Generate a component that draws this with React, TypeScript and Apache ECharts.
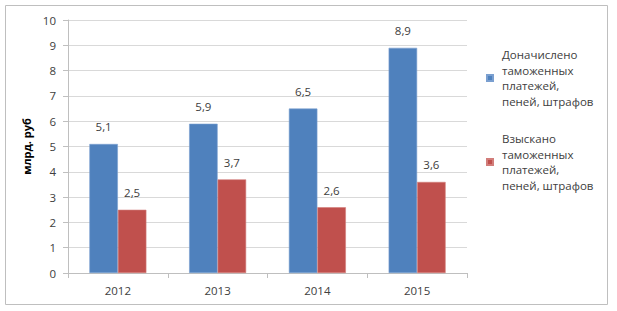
import React, { useEffect, useRef } from "react";
import * as echarts from "echarts";

const categories = ["2012", "2013", "2014", "2015"];
const seriesNames = [
  "Доначислено\nтаможенных\nплатежей,\nпеней, штрафов",
  "Взыскано\nтаможенных\nплатежей,\nпеней, штрафов",
];
const assessed = [5.1, 5.9, 6.5, 8.9];
const collected = [2.5, 3.7, 2.6, 3.6];
const yTicks = { min: 0, max: 10, interval: 1 };
const yName = "млрд. руб";

const FONT = "'Open Sans', 'Noto Sans', sans-serif";

export default function App() {
  const ref = useRef<HTMLDivElement>(null);
  useEffect(() => {
    if (!ref.current) return;
    const chart = echarts.init(ref.current, undefined, { renderer: "svg" });
    const label = {
      show: true,
      position: "top" as const,
      distance: 11,
      color: "#404040",
      fontSize: 11.5,
      fontFamily: FONT,
      formatter: (p: any) => String(p.value).replace(".", ","),
    };
    chart.setOption({
      animation: false,
      backgroundColor: "#ffffff",
      textStyle: { fontFamily: FONT },
      graphic: [
        {
          type: "rect",
          shape: { x: 5.5, y: 5.5, width: 602, height: 299 },
          style: { fill: "none", stroke: "#bfbfbf", lineWidth: 1 },
          z: -1,
        },
      ],
      grid: { left: 68, right: 150, top: 20, bottom: 38 },
      legend: {
        orient: "vertical",
        left: 481,
        top: 42,
        itemGap: 22,
        itemWidth: 6,
        itemHeight: 6,
        icon: "rect",
        textStyle: {
          color: "#404040",
          fontSize: 11.5,
          fontFamily: FONT,
          lineHeight: 15.5,
          padding: [0, 0, 0, 4],
        },
        data: seriesNames,
      },
      xAxis: {
        type: "category",
        data: categories,
        axisLine: { lineStyle: { color: "#bfbfbf" } },
        axisTick: { show: true, length: 5, lineStyle: { color: "#bfbfbf" } },
        axisLabel: { color: "#404040", fontSize: 11.5, margin: 11, fontFamily: FONT },
      },
      yAxis: {
        type: "value",
        min: yTicks.min,
        max: yTicks.max,
        interval: yTicks.interval,
        name: yName,
        nameLocation: "middle",
        nameRotate: 90,
        nameGap: 34,
        nameTextStyle: { color: "#000000", fontWeight: "bold", fontSize: 11, fontFamily: FONT },
        axisLine: { show: true, lineStyle: { color: "#bfbfbf" } },
        axisTick: { show: true, length: 5, lineStyle: { color: "#bfbfbf" } },
        axisLabel: { color: "#404040", fontSize: 11.5, margin: 12, fontFamily: FONT },
        splitLine: { show: true, lineStyle: { color: "#d9d9d9" } },
      },
      series: [
        {
          name: seriesNames[0],
          type: "bar",
          data: assessed,
          barWidth: 28.5,
          barGap: "0%",
          itemStyle: { color: "#4f81bd", borderColor: "#7a9fd0", borderWidth: 0.6 },
          label,
        },
        {
          name: seriesNames[1],
          type: "bar",
          data: collected,
          barWidth: 28.5,
          barGap: "0%",
          itemStyle: { color: "#c0504d", borderColor: "#d27d7a", borderWidth: 0.6 },
          label,
        },
      ],
    });
    return () => chart.dispose();
  }, []);
  return (
    <div
      ref={ref}
      style={{ position: "fixed", left: 0, top: 0, width: 617, height: 311 }}
    />
  );
}
